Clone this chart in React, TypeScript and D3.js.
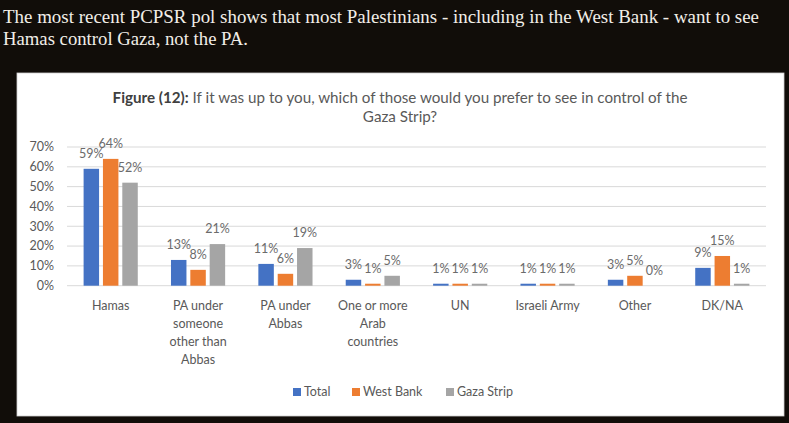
import * as d3 from "d3";

const WIDTH = 789;
const HEIGHT = 423;
const FONT = "Lato, 'Open Sans', sans-serif";

const headlineLines = [
  "The most recent PCPSR pol shows that most Palestinians - including in the West Bank - want to see",
  "Hamas control Gaza, not the PA.",
];

const categories = [
  "Hamas",
  "PA under someone other than Abbas",
  "PA under Abbas",
  "One or more Arab countries",
  "UN",
  "Israeli Army",
  "Other",
  "DK/NA",
];

// how each category label wraps under the axis
const categoryLines = [
  ["Hamas"],
  ["PA under", "someone", "other than", "Abbas"],
  ["PA under", "Abbas"],
  ["One or more", "Arab", "countries"],
  ["UN"],
  ["Israeli Army"],
  ["Other"],
  ["DK/NA"],
];

const seriesNames = ["Total", "West Bank", "Gaza Strip"];
const total = [59, 13, 11, 3, 1, 1, 3, 9];
const westBank = [64, 8, 6, 1, 1, 1, 5, 15];
const gazaStrip = [52, 21, 19, 5, 1, 1, 0, 1];
const seriesValues = [total, westBank, gazaStrip];

const yTicks = [0, 10, 20, 30, 40, 50, 60, 70];

const COLORS = ["#4472C4", "#ED7D31", "#A5A5A5"];

export default function App() {
  const x = d3
    .scaleBand<string>()
    .domain(categories)
    .range([67, 766])
    .paddingInner(0.38)
    .paddingOuter(0.19);

  const xInner = d3
    .scaleBand<string>()
    .domain(seriesNames)
    .range([0, x.bandwidth()])
    .paddingInner(0.2);

  const y = d3.scaleLinear().domain([0, 70]).range([285.7, 147]);

  // legend layout: square + label, widths estimated per entry
  const legendWidths = [59, 94, 70];
  const legendStart = 293;
  const legendX = legendWidths.map((_, i) =>
    legendStart + d3.sum(legendWidths.slice(0, i))
  );

  return (
    <div style={{ position: "fixed", left: 0, top: 0 }}>
      <svg width={WIDTH} height={HEIGHT} style={{ display: "block" }}>
        <rect width={WIDTH} height={HEIGHT} fill="#110d09" />
        {headlineLines.map((line, i) => (
          <text
            key={i}
            x={3}
            y={23 + i * 22}
            fill="#f1eee8"
            fontFamily="'Liberation Serif', serif"
            fontSize={18}
            textLength={i === 0 ? 756 : 245}
            lengthAdjust="spacingAndGlyphs"
          >
            {line}
          </text>
        ))}

        <rect x={17} y={73} width={767} height={343} fill="#ffffff" stroke="#d0d0d0" strokeWidth={0.8} />

        <text x={400} y={103} textAnchor="middle" fontFamily={FONT} fontSize={15.2} fill="#595959">
          <tspan fontWeight="bold" fill="#404040">Figure (12):</tspan>
          <tspan> If it was up to you, which of those would you prefer to see in control of the</tspan>
        </text>
        <text x={400} y={122} textAnchor="middle" fontFamily={FONT} fontSize={15.2} fill="#595959">
          Gaza Strip?
        </text>

        {yTicks.map((t) => (
          <g key={t}>
            <line x1={67} x2={766} y1={y(t)} y2={y(t)} stroke="#d9d9d9" strokeWidth={1} />
            <text
              x={54}
              y={y(t)}
              dy="0.35em"
              textAnchor="end"
              fontFamily={FONT}
              fontSize={12.5}
              fill="#595959"
            >
              {t}%
            </text>
          </g>
        ))}

        {categories.map((c, ci) => (
          <g key={c} transform={`translate(${x(c)},0)`}>
            {seriesNames.map((s, si) => {
              const v = seriesValues[si][ci];
              const bx = xInner(s) ?? 0;
              return (
                <g key={s}>
                  <rect
                    x={bx}
                    y={y(v)}
                    width={xInner.bandwidth()}
                    height={y(0) - y(v)}
                    fill={COLORS[si]}
                  />
                  <text
                    x={bx + xInner.bandwidth() / 2}
                    y={y(v) - 15}
                    dy="0.35em"
                    textAnchor="middle"
                    fontFamily={FONT}
                    fontSize={12.5}
                    fill="#6b6b6b"
                  >
                    {v}%
                  </text>
                </g>
              );
            })}
            {categoryLines[ci].map((line, li) => (
              <text
                key={li}
                x={x.bandwidth() / 2}
                y={306 + li * 18}
                dy="0.35em"
                textAnchor="middle"
                fontFamily={FONT}
                fontSize={12.5}
                fill="#595959"
              >
                {line}
              </text>
            ))}
          </g>
        ))}

        {seriesNames.map((s, i) => (
          <g key={s} transform={`translate(${legendX[i]},392)`}>
            <rect x={0} y={-4} width={8} height={8} fill={COLORS[i]} />
            <text x={11} y={0} dy="0.35em" fontFamily={FONT} fontSize={12.5} fill="#595959">
              {s}
            </text>
          </g>
        ))}
      </svg>
    </div>
  );
}
